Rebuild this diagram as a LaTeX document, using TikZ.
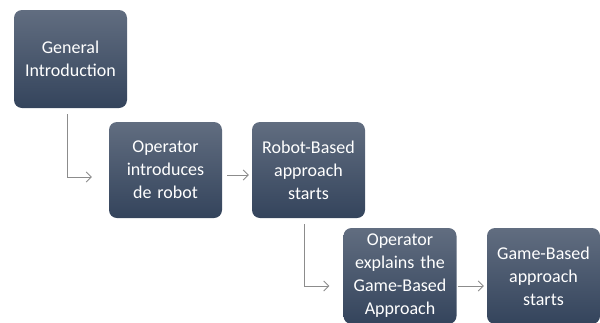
\documentclass[tikz,border=0pt]{standalone}
\usepackage{fontspec}
\setmainfont{Carlito}
\usetikzlibrary{arrows.meta}
\definecolor{boxtop}{HTML}{616D80}
\definecolor{boxbot}{HTML}{34445C}
\definecolor{conn}{HTML}{8C8C8C}
\tikzset{
  stepbox/.style={rounded corners=8pt, top color=boxtop, bottom color=boxbot, draw=none,
    text=white, align=center, minimum width=113pt, text width=111pt, inner sep=0pt,
    font=\fontsize{18}{23}\selectfont},
  conarrow/.style={draw=conn, line width=0.8pt, -{Straight Barb[length=5pt,width=10pt]}}
}
\begin{document}
\begin{tikzpicture}[x=1pt,y=-1pt]
\useasboundingbox (0,0) rectangle (600,322);
\node[stepbox, minimum height=98pt] (b1) at (70.5,59) {General\\Introduction};
\node[stepbox, minimum height=96pt] (b2) at (165.5,170) {Operator\\introduces\\de robot};
\node[stepbox, minimum height=96pt] (b3) at (308.5,170) {Robot-Based\\approach\\starts};
\node[stepbox, minimum height=96pt] (b4) at (400,276) {Operator\\explains the\\Game-Based\\Approach};
\node[stepbox, minimum height=96pt] (b5) at (543.5,276) {Game-Based\\approach\\starts};
\draw[conarrow] ([xshift=-3.5pt,yshift=-6pt]b1.south) |- ([xshift=-17pt,yshift=-7pt]b2.west);
\draw[conarrow] ([xshift=5pt,yshift=-5pt]b2.east) -- ([xshift=-3pt,yshift=-5pt]b3.west);
\draw[conarrow] ([xshift=-4.5pt,yshift=-6pt]b3.south) |- ([xshift=-14pt,yshift=-10pt]b4.west);
\draw[conarrow] ([xshift=1pt,yshift=-10pt]b4.east) -- ([xshift=-3pt,yshift=-10pt]b5.west);
\end{tikzpicture}
\end{document}
